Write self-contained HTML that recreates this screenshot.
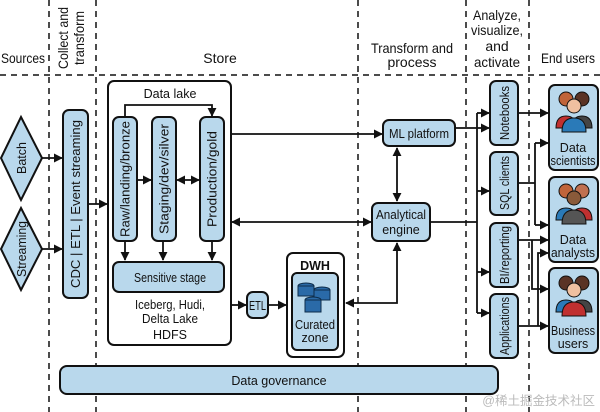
<!DOCTYPE html>
<html><head><meta charset="utf-8"><style>
body{margin:0;background:#fff}
svg{display:block;font-family:"Liberation Sans","Noto Sans CJK SC",sans-serif}
.b{fill:#b9d8ec;stroke:#111;stroke-width:2}
.l{stroke:#111;stroke-width:1.8;fill:none}
.d{stroke:#111;stroke-width:1.5;stroke-dasharray:6 5;fill:none}
text{font-size:12.5px;fill:#111}
.h{font-size:14px}
</style></head><body>
<svg width="600" height="412" viewBox="0 0 600 412">
<defs><marker id="a" viewBox="0 0 10 10" refX="9" refY="5" markerWidth="5" markerHeight="5" orient="auto-start-reverse"><path d="M0,0L10,5L0,10z" fill="#111"/></marker></defs>
<line class="d" x1="0" y1="75" x2="600" y2="75"/>
<line class="d" x1="49" y1="0" x2="49" y2="412"/>
<line class="d" x1="96" y1="0" x2="96" y2="412"/>
<line class="d" x1="358" y1="0" x2="358" y2="412"/>
<line class="d" x1="466" y1="0" x2="466" y2="412"/>
<line class="d" x1="529" y1="0" x2="529" y2="412"/>
<text class="h" x="23" y="63" text-anchor="middle" textLength="44" lengthAdjust="spacingAndGlyphs">Sources</text>
<text class="h" transform="translate(68,38) rotate(-90)" text-anchor="middle" textLength="62" lengthAdjust="spacingAndGlyphs">Collect and</text>
<text class="h" transform="translate(84,38) rotate(-90)" text-anchor="middle" textLength="54" lengthAdjust="spacingAndGlyphs">transform</text>
<text class="h" x="220" y="63" text-anchor="middle">Store</text>
<text class="h" x="412" y="53" text-anchor="middle" textLength="82" lengthAdjust="spacingAndGlyphs">Transform and</text>
<text class="h" x="412" y="67" text-anchor="middle">process</text>
<text class="h" x="497" y="20" text-anchor="middle" textLength="48" lengthAdjust="spacingAndGlyphs">Analyze,</text>
<text class="h" x="497" y="35" text-anchor="middle" textLength="52" lengthAdjust="spacingAndGlyphs">visualize,</text>
<text class="h" x="497" y="51" text-anchor="middle">and</text>
<text class="h" x="497" y="67" text-anchor="middle" textLength="46" lengthAdjust="spacingAndGlyphs">activate</text>
<text class="h" x="568" y="63" text-anchor="middle" textLength="54" lengthAdjust="spacingAndGlyphs">End users</text>
<path class="b" d="M21,117L42,158L21,200L1,158z"/>
<text transform="translate(26,158) rotate(-90)" text-anchor="middle">Batch</text>
<path class="b" d="M21,208L42,249L21,290L1,249z"/>
<text transform="translate(26,249) rotate(-90)" text-anchor="middle" textLength="56" lengthAdjust="spacingAndGlyphs">Streaming</text>
<line class="l" x1="42" y1="158" x2="62" y2="158" marker-end="url(#a)"/>
<line class="l" x1="42" y1="249" x2="62" y2="249" marker-end="url(#a)"/>
<rect class="b" x="63" y="110" width="25" height="188" rx="6"/>
<text transform="translate(80,204) rotate(-90)" text-anchor="middle" textLength="168" lengthAdjust="spacingAndGlyphs">CDC  |  ETL  |  Event streaming</text>
<line class="l" x1="88" y1="204" x2="107" y2="204" marker-end="url(#a)"/>
<rect x="108" y="81" width="123" height="264" rx="6" fill="#fff" stroke="#111" stroke-width="2"/>
<text x="170" y="98" text-anchor="middle" font-size="13.5">Data lake</text>
<rect class="b" x="113" y="117" width="24" height="124" rx="6"/>
<text transform="translate(129.5,179) rotate(-90)" text-anchor="middle" textLength="116" lengthAdjust="spacingAndGlyphs">Raw/landing/bronze</text>
<rect class="b" x="152" y="117" width="24" height="124" rx="6"/>
<text transform="translate(168.5,179) rotate(-90)" text-anchor="middle" textLength="110" lengthAdjust="spacingAndGlyphs">Staging/dev/silver</text>
<rect class="b" x="200" y="117" width="24" height="124" rx="6"/>
<text transform="translate(216.5,179) rotate(-90)" text-anchor="middle" textLength="96" lengthAdjust="spacingAndGlyphs">Production/gold</text>
<path class="l" d="M125,117V105H212V116" marker-end="url(#a)"/>
<line class="l" x1="137" y1="180" x2="151" y2="180" marker-end="url(#a)"/>
<line class="l" x1="177" y1="180" x2="199" y2="180" marker-start="url(#a)" marker-end="url(#a)"/>
<line class="l" x1="125" y1="241" x2="125" y2="260" marker-end="url(#a)"/>
<line class="l" x1="163" y1="241" x2="163" y2="260" marker-end="url(#a)"/>
<line class="l" x1="212" y1="241" x2="212" y2="260" marker-end="url(#a)"/>
<rect class="b" x="113" y="262" width="111" height="30" rx="6"/>
<text x="170" y="282" text-anchor="middle" textLength="72" lengthAdjust="spacingAndGlyphs">Sensitive stage</text>
<text x="170" y="309" text-anchor="middle" font-size="14" textLength="70" lengthAdjust="spacingAndGlyphs">Iceberg, Hudi,</text>
<text x="170" y="323" text-anchor="middle" font-size="14" textLength="56" lengthAdjust="spacingAndGlyphs">Delta Lake</text>
<text x="170" y="339" text-anchor="middle" font-size="15">HDFS</text>
<line class="l" x1="231" y1="134" x2="382" y2="134" marker-end="url(#a)"/>
<line class="l" x1="232" y1="222" x2="371" y2="222" marker-start="url(#a)" marker-end="url(#a)"/>
<line class="l" x1="231" y1="305" x2="246" y2="305" marker-end="url(#a)"/>
<rect class="b" x="247" y="292" width="21" height="26" rx="6"/>
<text x="257.5" y="310" text-anchor="middle" textLength="17" lengthAdjust="spacingAndGlyphs">ETL</text>
<line class="l" x1="268" y1="305" x2="286" y2="305" marker-end="url(#a)"/>
<rect x="287" y="253" width="57" height="104" rx="6" fill="#fff" stroke="#111" stroke-width="2"/>
<text x="315" y="270" text-anchor="middle" font-size="14" font-weight="bold">DWH</text>
<rect class="b" x="292" y="273" width="46" height="77" rx="5"/>
<g fill="#2a6aa8" stroke="#0d2c4a" stroke-width="1">
<ellipse cx="306" cy="286" rx="8" ry="3"/><rect x="298" y="286" width="16" height="10"/>
<ellipse cx="322" cy="290" rx="8" ry="3"/><rect x="314" y="290" width="16" height="10"/>
<ellipse cx="313" cy="300" rx="8" ry="3"/><rect x="305" y="300" width="16" height="12"/>
</g>
<text x="315" y="329" text-anchor="middle" textLength="40" lengthAdjust="spacingAndGlyphs">Curated</text>
<text x="315" y="342" text-anchor="middle">zone</text>
<rect class="b" x="383" y="120" width="72" height="26" rx="6"/>
<text x="419" y="138" text-anchor="middle" textLength="60" lengthAdjust="spacingAndGlyphs">ML platform</text>
<rect class="b" x="372" y="203" width="58" height="38" rx="6"/>
<text x="401" y="219" text-anchor="middle" textLength="50" lengthAdjust="spacingAndGlyphs">Analytical</text>
<text x="401" y="234" text-anchor="middle">engine</text>
<line class="l" x1="397" y1="148" x2="397" y2="201" marker-start="url(#a)" marker-end="url(#a)"/>
<path class="l" d="M397,243V303H346" marker-start="url(#a)" marker-end="url(#a)"/>
<line class="l" x1="455" y1="128" x2="489" y2="128" marker-end="url(#a)"/>
<line class="l" x1="430" y1="222" x2="477" y2="222"/>
<line class="l" x1="477" y1="113" x2="477" y2="313"/>
<line class="l" x1="477" y1="113" x2="489" y2="113" marker-end="url(#a)"/>
<line class="l" x1="477" y1="191" x2="489" y2="191" marker-end="url(#a)"/>
<line class="l" x1="477" y1="272" x2="489" y2="272" marker-end="url(#a)"/>
<line class="l" x1="477" y1="313" x2="489" y2="313" marker-end="url(#a)"/>
<rect class="b" x="490" y="81" width="28" height="64" rx="6"/>
<text transform="translate(509,113) rotate(-90)" text-anchor="middle" textLength="54" lengthAdjust="spacingAndGlyphs">Notebooks</text>
<rect class="b" x="490" y="152" width="28" height="63" rx="6"/>
<text transform="translate(509,183) rotate(-90)" text-anchor="middle" textLength="54" lengthAdjust="spacingAndGlyphs">SQL clients</text>
<rect class="b" x="490" y="223" width="28" height="64" rx="6"/>
<text transform="translate(509,255) rotate(-90)" text-anchor="middle" textLength="58" lengthAdjust="spacingAndGlyphs">BI/reporting</text>
<rect class="b" x="490" y="294" width="28" height="64" rx="6"/>
<text transform="translate(509,326) rotate(-90)" text-anchor="middle" textLength="58" lengthAdjust="spacingAndGlyphs">Applications</text>
<line class="l" x1="518" y1="113" x2="548" y2="113" marker-end="url(#a)"/>
<path class="l" d="M518,183H535"/>
<path class="l" d="M535,143V225"/>
<line class="l" x1="535" y1="143" x2="548" y2="143" marker-end="url(#a)"/>
<line class="l" x1="535" y1="225" x2="548" y2="225" marker-end="url(#a)"/>
<line class="l" x1="518" y1="240" x2="548" y2="240" marker-end="url(#a)"/>
<path class="l" d="M532,240V289H548" marker-end="url(#a)"/>
<line class="l" x1="518" y1="326" x2="548" y2="326" marker-end="url(#a)"/>
<path class="l" d="M538,326V253H548" marker-end="url(#a)"/>
<rect class="b" x="549" y="85" width="49" height="85" rx="6"/>
<rect class="b" x="549" y="177" width="49" height="85" rx="6"/>
<rect class="b" x="549" y="268" width="49" height="85" rx="6"/>
<g stroke="#111" stroke-width="1">
<circle cx="566" cy="99" r="7" fill="#c0643a"/><circle cx="582" cy="99" r="7" fill="#5a3325"/>
<path d="M556,128q0-12 10-12q10 0 10 12z" fill="#c03030"/><path d="M572,128q0-12 10-12q10 0 10 12z" fill="#444"/>
<circle cx="574" cy="106" r="7" fill="#f0c0a0"/><path d="M562,132q0-14 12-14q12 0 12 14z" fill="#2a7ab8"/>
<circle cx="566" cy="191" r="7" fill="#c0643a"/><circle cx="582" cy="191" r="7" fill="#c07050"/>
<path d="M556,220q0-12 10-12q10 0 10 12z" fill="#2a7ab8"/><path d="M572,220q0-12 10-12q10 0 10 12z" fill="#c03030"/>
<circle cx="574" cy="198" r="7" fill="#8a5a3a"/><path d="M562,224q0-14 12-14q12 0 12 14z" fill="#555"/>
<circle cx="566" cy="283" r="7" fill="#5a3325"/><circle cx="582" cy="283" r="7" fill="#5a3325"/>
<path d="M556,312q0-12 10-12q10 0 10 12z" fill="#2a7ab8"/><path d="M572,312q0-12 10-12q10 0 10 12z" fill="#444"/>
<circle cx="574" cy="290" r="7" fill="#f0c0a0"/><path d="M562,316q0-14 12-14q12 0 12 14z" fill="#c03030"/>
</g>
<text x="573" y="152" text-anchor="middle" font-size="14">Data</text>
<text x="573" y="165" text-anchor="middle" font-size="14" textLength="45" lengthAdjust="spacingAndGlyphs">scientists</text>
<text x="573" y="244" text-anchor="middle" font-size="14">Data</text>
<text x="573" y="257" text-anchor="middle" font-size="14" textLength="44" lengthAdjust="spacingAndGlyphs">analysts</text>
<text x="573" y="335" text-anchor="middle" font-size="14" textLength="44" lengthAdjust="spacingAndGlyphs">Business</text>
<text x="573" y="348" text-anchor="middle" font-size="14">users</text>
<rect class="b" x="60" y="366" width="438" height="28" rx="7"/>
<text x="279" y="385" text-anchor="middle" font-size="14">Data governance</text>
<text x="595" y="405" text-anchor="end" font-size="11" style="fill:#bbb">@稀土掘金技术社区</text>
</svg>
</body></html>
